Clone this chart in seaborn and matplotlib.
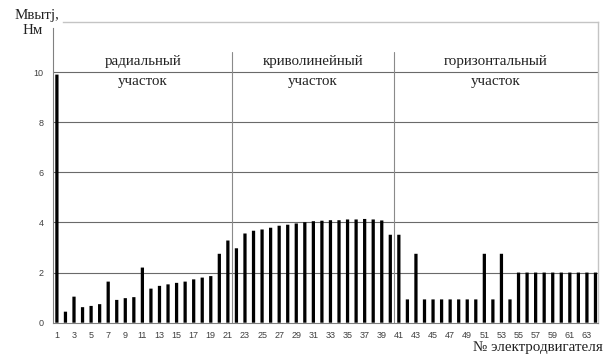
import matplotlib
matplotlib.use("Agg")
import matplotlib.pyplot as plt
import seaborn as sns
import pandas as pd

# Motor numbers and torque per motor, N·m
motor_no = list(range(1, 65))
torque = [9.9, 0.44, 1.04, 0.62, 0.67, 0.74, 1.64, 0.91, 0.98, 1.02,
          2.2, 1.36, 1.47, 1.53, 1.59, 1.64, 1.73, 1.8, 1.86, 2.75,
          3.28, 2.97, 3.56, 3.67, 3.72, 3.79, 3.87, 3.91, 3.96, 4.01,
          4.05, 4.07, 4.09, 4.09, 4.12, 4.12, 4.14, 4.12, 4.08, 3.51,
          3.51, 0.93, 2.75, 0.93, 0.93, 0.93, 0.93, 0.93, 0.93, 0.93,
          2.75, 0.93, 2.75, 0.93, 2.0, 2.0, 2.0, 2.0, 2.0, 2.0,
          2.0, 2.0, 2.0, 2.0]

# Track sections and the borders between them
section_top = ["радиальный", "криволинейный", "горизонтальный"]
section_bottom = ["участок", "участок", "участок"]
section_borders = [21.5, 40.4]

y_ticks = [0, 2, 4, 6, 8, 10]

df = pd.DataFrame({"motor": motor_no, "torque": torque})

sns.set_style("white")
serif = ["Liberation Serif", "DejaVu Serif"]
sans = ["Liberation Sans", "DejaVu Sans"]

fig = plt.figure(figsize=(6.05, 3.54), dpi=100)
ax = fig.add_axes([0.0884, 0.0884, 0.9008, 0.8495])

sns.barplot(data=df, x="motor", y="torque", native_scale=True, width=0.38,
            color="black", saturation=1, edgecolor="none", ax=ax, zorder=3)
for p in ax.patches:
    p.set_snap(False)

x_lo, x_hi = 0.6, 64.35
ax.set_xlim(x_lo, x_hi)
ax.set_ylim(0, 12)

# horizontal grid
ax.set_yticks(y_ticks)
ax.set_yticklabels([str(v) for v in y_ticks], fontfamily=sans, fontsize=6.5, color="#404040")
for v in y_ticks[1:]:
    ax.axhline(v, color="#6a6a6a", lw=0.8, zorder=1)

ax.set_xticks(motor_no)
ax.set_xticklabels([str(n) if n % 2 else "" for n in motor_no],
                   fontfamily=sans, fontsize=6.5, color="#404040")
ax.tick_params(axis="both", which="major", length=3, width=0.7, color="#808080")
ax.tick_params(axis="y", pad=4)
ax.tick_params(axis="x", pad=3)
ax.set_xlabel("")
ax.set_ylabel("")

for side in ["left", "bottom"]:
    ax.spines[side].set_color("#808080")
    ax.spines[side].set_linewidth(0.8)
for side in ["top", "right"]:
    ax.spines[side].set_color("#c4c4c4")
    ax.spines[side].set_linewidth(1.0)
ax.spines["left"].set_bounds(0, 11.75)
ax.spines["top"].set_bounds(1.7, x_hi)

# section borders and captions
edges = [x_lo] + section_borders + [x_hi]
for b in section_borders:
    ax.plot([b, b], [0, 10.8], color="#8a8a8a", lw=0.8, zorder=2)
for i in range(3):
    cx = (edges[i] + edges[i + 1]) / 2
    ax.text(cx, 10.42, section_top[i], ha="center", va="center",
            fontfamily=serif, fontsize=10.8, color="#222222")
    ax.text(cx, 9.62, section_bottom[i], ha="center", va="center",
            fontfamily=serif, fontsize=10.8, color="#222222")

fig.text(37 / 605, 1 - 15 / 354, "Мвытj,", ha="center", va="center",
         fontfamily=serif, fontsize=10.8, color="#222222")
fig.text(33 / 605, 1 - 31 / 354, "Нм", ha="center", va="center",
         fontfamily=serif, fontsize=10.8, color="#222222")
fig.text(603 / 605, 1 - 347 / 354, "№ электродвигателя", ha="right", va="center",
         fontfamily=serif, fontsize=10.8, color="#222222")

fig.savefig("out.png", dpi=100)
